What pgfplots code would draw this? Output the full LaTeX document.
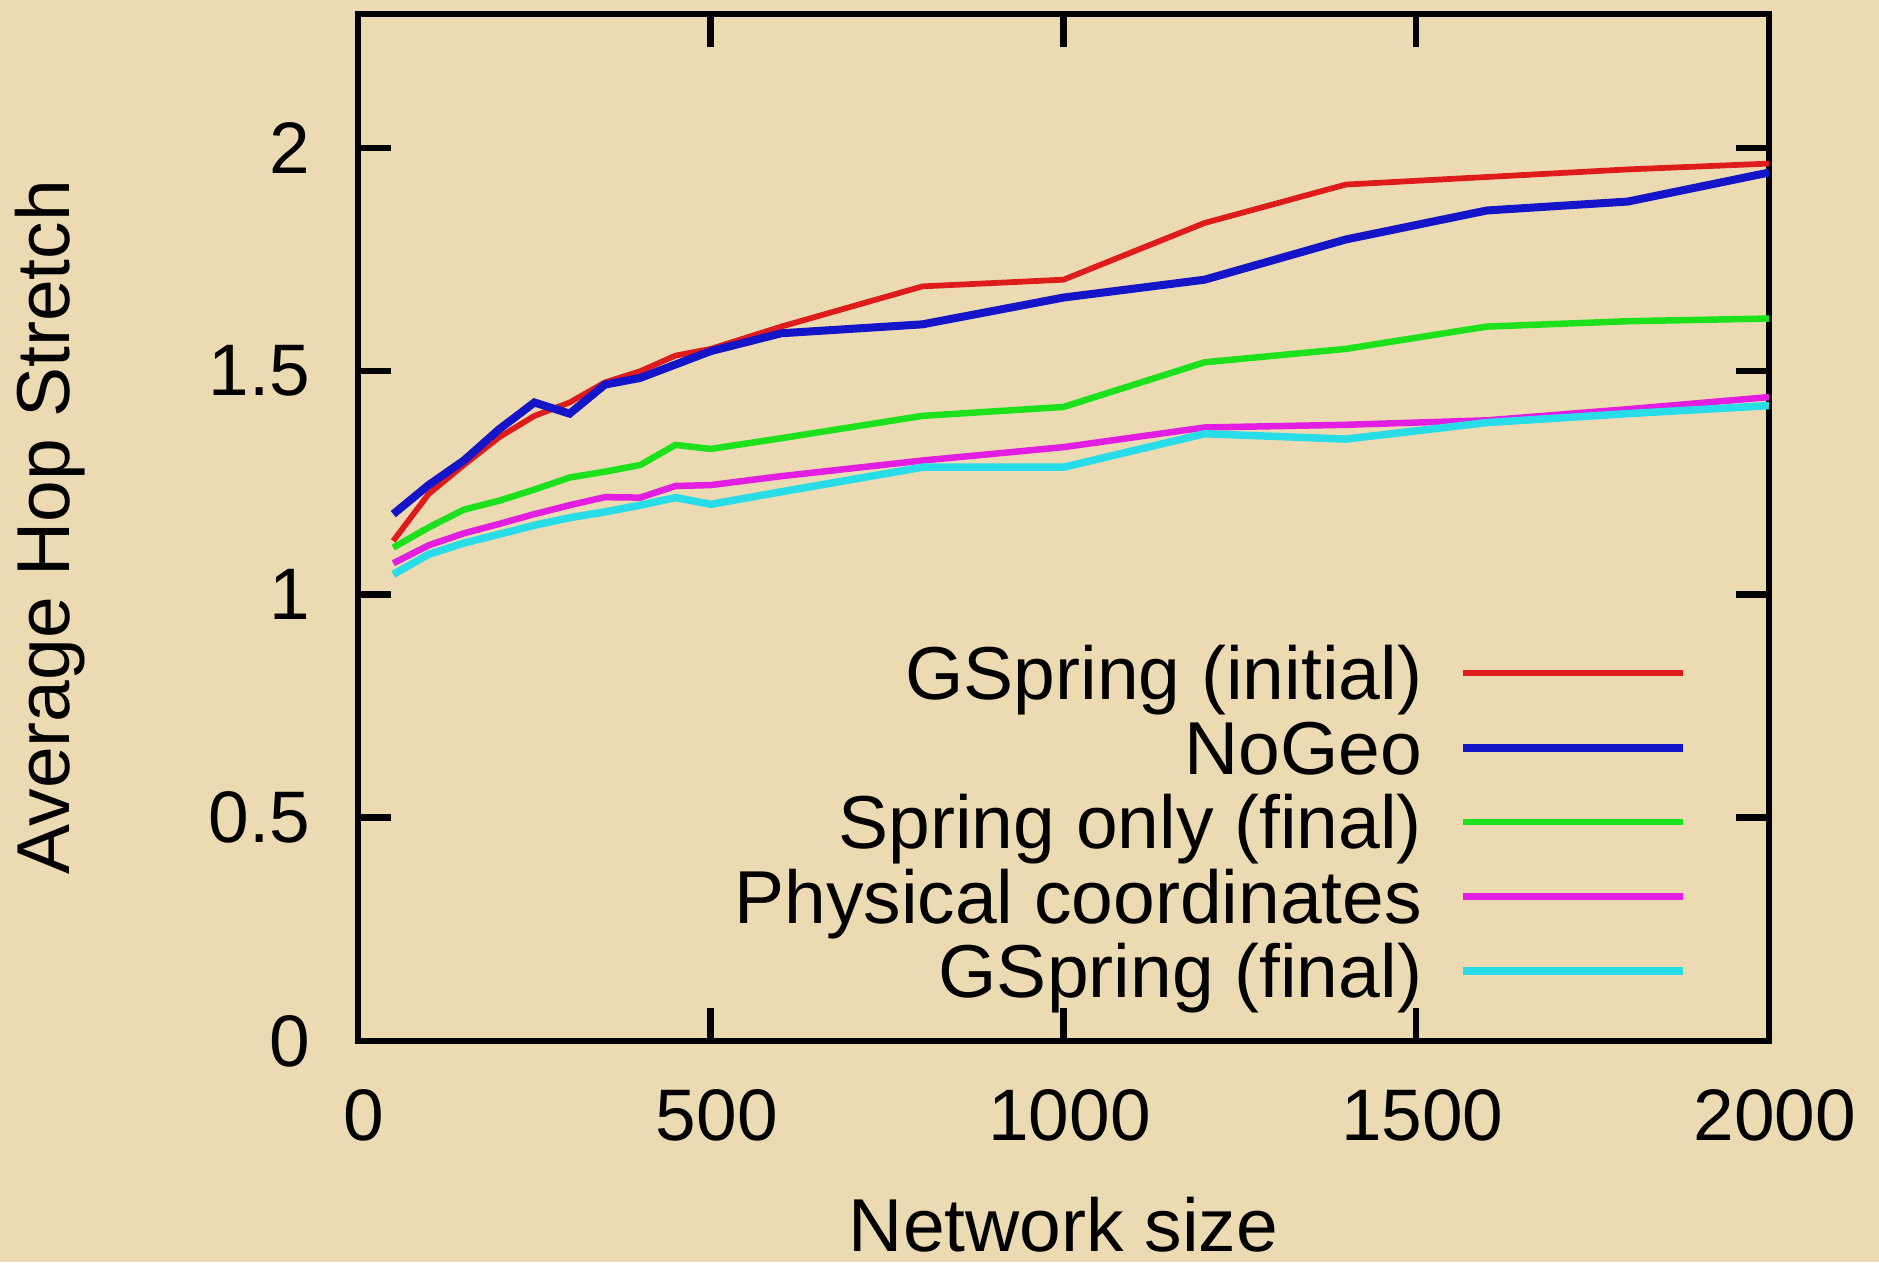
\documentclass[border=0pt]{standalone}
\usepackage{fontspec}
\setmainfont{Liberation Sans}
\usepackage{pgfplots}
\pgfplotsset{compat=1.18}
\definecolor{bg}{RGB}{236,219,178}
\definecolor{cred}{RGB}{222,28,28}
\definecolor{cblue}{RGB}{20,20,200}
\definecolor{cgreen}{RGB}{30,225,30}
\definecolor{cmag}{RGB}{225,30,225}
\definecolor{ccyan}{RGB}{40,220,232}
\begin{document}
\fontsize{15}{18}\selectfont
\begin{tikzpicture}
\useasboundingbox (-71.6pt,-44.2pt) rectangle (304.2pt,208.2pt);
\fill[bg] (-71.6pt,-44.2pt) rectangle (304.2pt,208.2pt);
\begin{axis}[
  at={(0,0)}, anchor=south west,
  scale only axis, width=282.2pt, height=205.4pt,
  xmin=0, xmax=2000, ymin=0, ymax=2.3,
  xtick={0,500,1000,1500,2000},
  ytick={0,0.5,1,1.5,2},
  xtick pos=both, ytick pos=both,
  xticklabel pos=lower, yticklabel pos=left,
  tick align=inside,
  major tick length=6.6pt,
  tick style={line width=1.3pt, black},
  axis line style={line width=1.1pt, black},
  /pgf/number format/assume math mode=true,
  /pgf/number format/1000 sep={},
  ticklabel style={font=\fontsize{14.6}{18}\selectfont},
  yticklabel style={anchor=east, inner sep=0pt, xshift=-9.4pt},
  xticklabel style={anchor=north, inner sep=0pt, yshift=-9.6pt, xshift=1.2pt},
  xlabel={Network size},
  ylabel={Average Hop Stretch},
  label style={font=\fontsize{15}{18}\selectfont},
  every axis x label/.style={at={(axis description cs:0.5,-0.2045)}, anchor=base, inner sep=0pt},
  every axis y label/.style={at={(axis description cs:-0.218,0.5)}, anchor=center, rotate=90, inner sep=0pt},
  legend plot pos=right,
  legend cell align=right,
  legend image code/.code={\draw[#1] (0pt,1.8pt) -- (44pt,1.8pt);},
  legend style={draw=none, fill=none, inner sep=0pt, outer sep=0pt,
    row sep=0pt, column sep=7.4pt,
    font=\fontsize{15}{18}\selectfont,
    nodes={inner sep=0pt, text height=11pt, text depth=3.9pt},
    at={(0.942,0.023)}, anchor=south east},
]
\addplot[cred, line width=1.15pt] coordinates {
(50,1.12) (100,1.225) (150,1.29) (200,1.352) (250,1.40) (300,1.43) (350,1.475) (400,1.50) (450,1.535) (500,1.55) (600,1.60) (800,1.69) (1000,1.705) (1200,1.832) (1400,1.918) (1600,1.935) (1800,1.952) (2000,1.965)};
\addlegendentry{GSpring (initial)}
\addplot[cblue, line width=1.6pt] coordinates {
(50,1.18) (100,1.245) (150,1.30) (200,1.37) (250,1.43) (300,1.405) (350,1.47) (400,1.485) (450,1.515) (500,1.545) (600,1.585) (800,1.605) (1000,1.665) (1200,1.705) (1400,1.795) (1600,1.86) (1800,1.88) (2000,1.945)};
\addlegendentry{NoGeo}
\addplot[cgreen, line width=1.3pt] coordinates {
(50,1.105) (100,1.15) (150,1.19) (200,1.21) (250,1.235) (300,1.262) (350,1.275) (400,1.29) (450,1.335) (500,1.326) (600,1.35) (800,1.40) (1000,1.42) (1200,1.52) (1400,1.55) (1600,1.60) (1800,1.612) (2000,1.618)};
\addlegendentry{Spring only (final)}
\addplot[cmag, line width=1.3pt] coordinates {
(50,1.07) (100,1.11) (150,1.137) (200,1.158) (250,1.18) (300,1.20) (350,1.218) (400,1.217) (450,1.243) (500,1.245) (600,1.265) (800,1.30) (1000,1.33) (1200,1.374) (1400,1.38) (1600,1.39) (1800,1.415) (2000,1.442)};
\addlegendentry{Physical coordinates}
\addplot[ccyan, line width=1.5pt] coordinates {
(50,1.045) (100,1.09) (150,1.115) (200,1.135) (250,1.155) (300,1.172) (350,1.185) (400,1.20) (450,1.217) (500,1.202) (600,1.23) (800,1.285) (1000,1.285) (1200,1.36) (1400,1.348) (1600,1.385) (1800,1.405) (2000,1.423)};
\addlegendentry{GSpring (final)}
\end{axis}
\end{tikzpicture}
\end{document}
